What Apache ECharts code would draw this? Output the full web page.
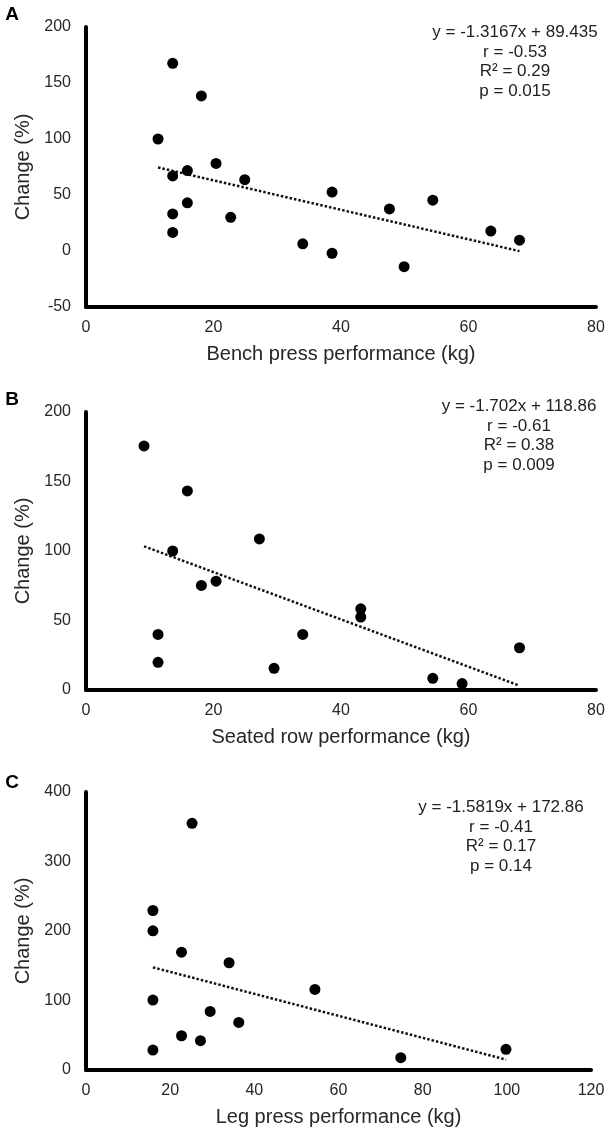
<!DOCTYPE html>
<html>
<head>
<meta charset="utf-8">
<script src="https://cdn.jsdelivr.net/npm/echarts@6/dist/echarts.min.js"></script>
<style>
html,body{margin:0;padding:0;background:#fff;}
#chart{width:614px;height:1134px;}
</style>
</head>
<body>
<div id="chart"></div>
<script>
// Panel A: bench press
const benchX = [11.3,13.6,18.1,13.6,15.9,20.4,24.9,15.9,13.6,13.6,22.7,34.0,38.6,38.6,47.6,49.9,54.4,63.5,68.0];
const benchY = [100,167.6,138.5,67,71.8,78.2,63.7,43,33.1,16.6,30.1,6.4,52.6,-2,37.6,-14,45.4,17.8,9.7];
// Panel B: seated row
const rowX = [9.1,15.9,27.2,13.6,18.1,20.4,43.1,43.1,11.3,34.0,11.3,29.5,54.4,59.0,68.0];
const rowY = [175.6,143.2,108.7,100,75.2,78.3,58.4,52.5,40,40,19.9,15.6,8.4,4.6,30.4];
// Panel C: leg press
const legX = [25.2,15.9,15.9,22.7,34.0,54.4,15.9,29.5,36.3,22.7,27.2,15.9,74.8,99.8];
const legY = [355,229.5,200.2,169.6,154.3,116,100.6,84.3,68.5,49.3,42.2,28.7,17.7,29.7];

// Trendline coefficients printed on the chart [slope, intercept]
const trendA = [-1.3167, 89.435];
const trendB = [-1.702, 118.86];
const trendC = [-1.5819, 172.86];

const statsA = ['y = -1.3167x + 89.435','r = -0.53','R² = 0.29','p = 0.015'];
const statsB = ['y = -1.702x + 118.86','r = -0.61','R² = 0.38','p = 0.009'];
const statsC = ['y = -1.5819x + 172.86','r = -0.41','R² = 0.17','p = 0.14'];

const xNames = ['Bench press performance (kg)','Seated row performance (kg)','Leg press performance (kg)'];
const yName = 'Change (%)';
const panelLetters = ['A','B','C'];

const xRanges = [[0,80,20],[0,80,20],[0,120,20]];
const yRanges = [[-50,200,50],[0,200,50],[0,400,100]];

function pts(xs, ys){ return xs.map((x,i)=>[x, ys[i]]); }
function trend(xs, c){
  const lo = Math.min(...xs), hi = Math.max(...xs);
  return [[lo, c[0]*lo + c[1]], [hi, c[0]*hi + c[1]]];
}

const FONT = '"Liberation Sans", Arial, sans-serif';
const grids = [
  {left:86, top:27, width:510, height:280},
  {left:86, top:412, width:510, height:278},
  {left:86, top:792, width:505, height:278}
];

const xAxes = xRanges.map((r,i)=>({
  type:'value', gridIndex:i, min:r[0], max:r[1], interval:r[2],
  name:xNames[i], nameLocation:'middle', nameGap:37,
  nameTextStyle:{fontSize:20, color:'#262626', fontFamily:FONT},
  axisLine:{show:true, onZero:false, lineStyle:{color:'#000', width:4}},
  axisTick:{show:false}, splitLine:{show:false},
  axisLabel:{fontSize:16, color:'#262626', fontFamily:FONT, margin:13}
}));
const yAxes = yRanges.map((r,i)=>({
  type:'value', gridIndex:i, min:r[0], max:r[1], interval:r[2],
  name:yName, nameLocation:'middle', nameGap:49,
  nameTextStyle:{fontSize:20, color:'#262626', fontFamily:FONT},
  axisLine:{show:true, onZero:false, lineStyle:{color:'#000', width:4}},
  axisTick:{show:false}, splitLine:{show:false},
  axisLabel:{fontSize:16, color:'#262626', fontFamily:FONT, margin:15}
}));

const datasets = [[benchX,benchY,trendA],[rowX,rowY,trendB],[legX,legY,trendC]];
const series = [];
datasets.forEach((d,i)=>{
  series.push({
    type:'line', xAxisIndex:i, yAxisIndex:i, data:trend(d[0], d[2]),
    symbol:'none', lineStyle:{color:'#111', width:2.5, type:[2.5,2]}, silent:true, z:1
  });
  series.push({
    type:'scatter', xAxisIndex:i, yAxisIndex:i, data:pts(d[0], d[1]),
    symbolSize:11, itemStyle:{color:'#000', opacity:1}, z:2
  });
});

const statsPos = [[515,23],[519,397],[501,798]];
const stats = [statsA, statsB, statsC];
const letterPos = [[12,15],[12,400],[12,783]];
const graphic = [];
stats.forEach((s,i)=>{
  graphic.push({type:'text', x:statsPos[i][0], y:statsPos[i][1],
    style:{text:s.join('\n'), font:'17px '+FONT, fill:'#222', textAlign:'center', textVerticalAlign:'top', lineHeight:19.5}});
});
panelLetters.forEach((l,i)=>{
  graphic.push({type:'text', x:letterPos[i][0], y:letterPos[i][1],
    style:{text:l, font:'bold 19px '+FONT, fill:'#000', textAlign:'center', textVerticalAlign:'middle'}});
});

const chart = echarts.init(document.getElementById('chart'));
chart.setOption({
  animation:false,
  backgroundColor:'#fff',
  grid:grids, xAxis:xAxes, yAxis:yAxes, series:series, graphic:graphic
});
</script>
</body>
</html>
